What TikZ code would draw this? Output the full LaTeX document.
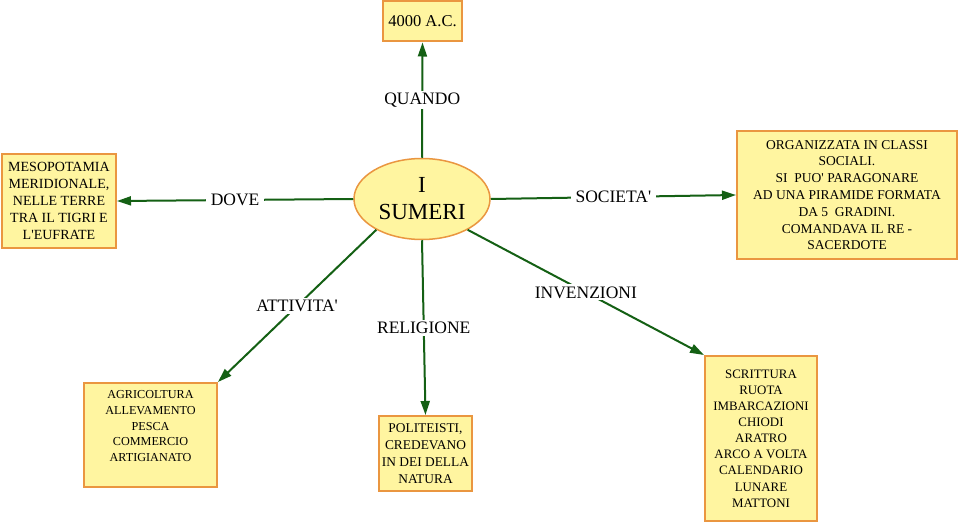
\documentclass[tikz,border=0pt]{standalone}
\usepackage{fontspec}
\setmainfont{Liberation Serif}[Ligatures=TeXOff]
\usetikzlibrary{arrows.meta,shapes.geometric}
\definecolor{boxfill}{RGB}{255,245,160}
\definecolor{boxline}{RGB}{234,150,64}
\definecolor{conn}{RGB}{20,96,20}
\begin{document}
\begin{tikzpicture}[x=1pt,y=-1pt,
  box/.style={draw=boxline, line width=2pt, fill=boxfill, inner sep=0pt, align=center},
  lbl/.style={fill=white, inner xsep=5pt, inner ysep=2pt, font=\fontsize{17.5}{20}\selectfont},
  link/.style={draw=conn, line width=2pt, -{Triangle[length=14pt,width=9pt]}}]
\useasboundingbox (0,0) rectangle (959,527);
\fill[white] (0,0) rectangle (959,527);

\node[ellipse, draw=boxline, line width=1.5pt, fill=boxfill, minimum width=136pt, minimum height=81pt,
  inner sep=0pt, align=center, font=\fontsize{23}{27}\selectfont] (sumeri) at (422,199) {I\\SUMERI};

\node[box, minimum width=79pt, minimum height=40pt, font=\fontsize{16.5}{19}\selectfont]
  (quando) at (422.5,21.5) {4000 A.C.};

\node[box, minimum width=114pt, minimum height=94pt, font=\fontsize{14}{17.2}\selectfont]
  (dove) at (59,201) {MESOPOTAMIA\\MERIDIONALE,\\NELLE TERRE\\TRA IL TIGRI E\\L'EUFRATE};

\node[box, minimum width=220pt, minimum height=128pt, font=\fontsize{13.5}{16.8}\selectfont]
  (societa) at (847,195) {ORGANIZZATA IN CLASSI\\SOCIALI.\\SI\ \ PUO' PARAGONARE\\AD UNA PIRAMIDE FORMATA\\DA 5\ \ GRADINI.\\COMANDAVA IL RE -\\SACERDOTE};

\node[box, minimum width=133pt, minimum height=104pt, font=\fontsize{12.2}{15.8}\selectfont]
  (attivita) at (150.5,435) {AGRICOLTURA\\ALLEVAMENTO\\PESCA\\COMMERCIO\\ARTIGIANATO\\[2pt]\mbox{}};

\node[box, minimum width=93pt, minimum height=75pt, font=\fontsize{13.4}{17}\selectfont]
  (religione) at (425.5,453.5) {POLITEISTI,\\CREDEVANO\\IN DEI DELLA\\NATURA};

\node[box, minimum width=112pt, minimum height=165pt, font=\fontsize{12.9}{16.1}\selectfont]
  (invenzioni) at (761,438.5) {SCRITTURA\\RUOTA\\IMBARCAZIONI\\CHIODI\\ARATRO\\ARCO A VOLTA\\CALENDARIO\\LUNARE\\MATTONI};

\path[link] (sumeri.north) -- (quando.south) node[lbl, pos=.5] (lq) {QUANDO};
\path[link] (sumeri.west) -- (dove.east) node[lbl, pos=.5] (ld) {DOVE};
\path[link] (sumeri.east) -- (societa.west) node[lbl, pos=.5] (ls) {SOCIETA'};
\path[link] (sumeri.-146) -- (attivita.north east) node[lbl, pos=.5] (la) {ATTIVITA'};
\path[link] (sumeri.south) -- (religione.north) node[lbl, pos=.5] (lr) {RELIGIONE};
\path[link] (sumeri.-34) -- (invenzioni.north west) node[lbl, pos=.5] (li) {INVENZIONI};
\end{tikzpicture}
\end{document}
